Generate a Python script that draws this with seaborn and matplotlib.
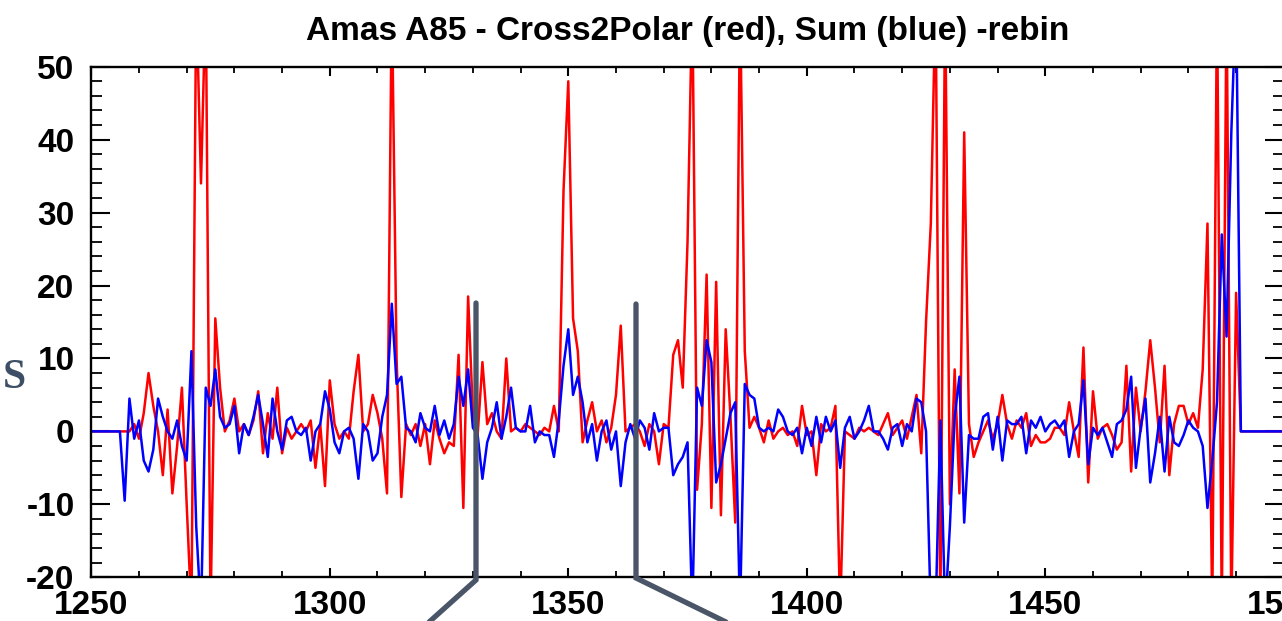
import numpy as np
import pandas as pd
import seaborn as sns
import matplotlib
matplotlib.use("Agg")
import matplotlib.pyplot as plt
from matplotlib.lines import Line2D
from matplotlib.ticker import MultipleLocator

# channel axis (1250 .. 1500, one sample per unit)
channel = list(range(1250, 1501))

# Cross2Polar signal (red), one row per 10 channels
cross2polar = [
    0, 0, 0, 0, 0, 0, 0, 0, 0, 1,
    -1, 2.5, 8, 3.5, 0, -6, 3, -8.5, -2, 6,
    -10, -25, 60, 34, 60, -25, 15.5, 6, 0, 1.5,
    4.5, 0, 1, -0.5, 1.5, 5.5, -3, 2.5, -1, 6,
    -3, 0.5, -1, 0, 1, 0, 1.5, -5, 1, -7.5,
    7, 1, -1, 0, -1, 5.5, 10.5, 0, 1, 5,
    2.5, -1, -8.5, 60, 10, -9, 1, -0.5, 1, -2,
    1, -4.5, 1.5, -1, -3, -1.5, -2, 10.5, -10.5, 18.5,
    2.5, -0.5, 9.5, 1, 2.5, 0, -1, 10, 0, 0.5,
    0, 1, 0.5, 0, -0.5, 0.5, 0, 3.5, 0, 33,
    48, 15.5, 11, -1.5, 1.5, 4, 0, 1.5, -1.5, 0.5,
    5, 14.5, 0, 0.5, 1, 0, -2, 1, 0, -4.5,
    1, 0.5, 10.5, 12.5, 6, 26, 60, -8, 1, 21.5,
    -10.5, 20.5, -11.5, 14, 2, -12.5, 60, 11, 0.5, 2,
    0.5, -1.5, 1.5, -1, 0, 0.5, -0.5, 0, -2, 3.5,
    -0.5, 0, -6, 1, 0, 0.5, 3.5, -25, 0, -0.5,
    -1, 0.5, 0, 0.5, 0, -0.5, 1, 2.5, -0.5, 0.5,
    1.5, -1, 2, 5, -3, 15, 28.5, 60, -25, 60,
    -10, 8.5, -8.5, 41, 1, -3.5, -1.5, 0, 1.5, -1,
    1, 5, 1, -1, 1.5, 0.5, 2.5, -2, -0.5, -1.5,
    -1.5, -1, 0.5, 0.5, -0.5, 4, 0, -3.5, 11.5, -7,
    5.5, -1, 0.5, 1, -0.5, -2.5, -1.5, 9, -5.5, 6,
    0, 5.5, 12.5, 6, -1.5, 9, -6, 1, 3.5, 3.5,
    1, 2.5, 0.5, 8.5, 28.5, -25, 60, -25, 60, -25,
    19, 0, 0, 0, 0, 0, 0, 0, 0, 0,
    0,
]

# Sum signal (blue)
sum_signal = [
    0, 0, 0, 0, 0, 0, 0, -9.5, 4.5, -1,
    1.5, -4, -5.5, -2.5, 4.5, 2, 0, -1, 1.5, -2,
    -4, 11, -13, -25, 6, 3.5, 8.5, 2, 0.5, 1,
    3.5, -3, 1, -0.5, 2, 5, 1, -3.5, 4.5, 0,
    -2.5, 1.5, 2, 0, -0.5, 0.5, -4, 0, 1, 5.5,
    3, -1.5, -3, 0, 0.5, -1, -6.5, 1, 0, -4,
    -3, 2, 5, 17.5, 6.5, 7.5, 0.5, 0, -1.5, 2.5,
    0.5, 0, 3.5, -0.5, 1.5, -1, 1, 7.5, 3.5, 8.5,
    0.5, -0.5, -6.5, -1.5, 0.5, 4, -1, 2, 6, 0.5,
    0, 0, 3.5, -1.5, 0, -0.5, -0.5, -3.5, 1.5, 9,
    14, 5, 7.5, 4, -1.5, 1, -4, 0, 1.5, -2.5,
    0, -7.5, -1.5, 1, -1, 1.5, 0.5, -2.5, 2.5, 0,
    0.5, 0.5, -6, -4.5, -3.5, -1.5, -25, 6, 3.5, 12.5,
    9.5, -7, -4.5, -1, 2.5, 4, -25, 6.5, 5, 4.5,
    0.5, 0, 0.5, 0, 3, 2, 0, -0.5, 0.5, -3,
    0.5, -2, 2, -1.5, 2, 0, 1.5, -5, 0.5, 2,
    -1, 0, 1.5, 3.5, 0, 0, -1, -2.5, 0.5, 1,
    -2, 1, 0, 4.5, 4, 0, -25, -25, 1.5, -25,
    -13, 2, 7.5, -12.5, -0.5, -1, -1, 2, 2.5, -2.5,
    2, -4, 1.5, 1, 1, 2, -3, 1.5, 0.5, 2,
    0, 1, 1.5, 0.5, 1.5, -3.5, 0, 1, 7, -4.5,
    0.5, -0.5, 0.5, -1.5, -3.5, 1, 1.5, 3, 7.5, -5,
    0.5, 4.5, -7, -3, 2, -5.5, 2, -1.5, -2, -0.5,
    1.5, 0.5, 0, -2, -10.5, -4, 4, 27, 13, 41,
    60, 0, 0, 0, 0, 0, 0, 0, 0, 0,
    0,
]

x_ticks = [1250, 1300, 1350, 1400, 1450, 1500]
y_ticks = [-20, -10, 0, 10, 20, 30, 40, 50]

df = pd.DataFrame({
    "channel": channel * 2,
    "value": cross2polar + sum_signal,
    "series": ["Cross2Polar"] * len(channel) + ["Sum"] * len(channel),
})

sns.set_style("ticks")
plt.rcParams["font.family"] = ["Liberation Sans", "DejaVu Sans"]
plt.rcParams["axes.unicode_minus"] = False
for key in ["text.color", "xtick.color", "ytick.color", "axes.edgecolor",
            "xtick.labelcolor", "ytick.labelcolor"]:
    plt.rcParams[key] = "black"

fig = plt.figure(figsize=(12.82, 6.21), dpi=100)
ax = fig.add_axes([0.0712, 0.0704, 0.9302, 0.8222])

sns.lineplot(data=df, x="channel", y="value", hue="series",
             palette={"Cross2Polar": "#ff0000", "Sum": "#0000ff"},
             estimator=None, sort=False, linewidth=1.8, legend=False, ax=ax)

ax.set_xlim(1250, 1500)
ax.set_ylim(-20, 50)
ax.set_xticks(x_ticks)
ax.set_yticks(y_ticks)
ax.xaxis.set_minor_locator(MultipleLocator(10))
ax.yaxis.set_minor_locator(MultipleLocator(2))
ax.set_xlabel("")
ax.set_ylabel("")

for side in ax.spines.values():
    side.set_linewidth(1.7)
    side.set_color("black")

ax.tick_params(axis="x", which="major", direction="in", top=True, length=6.5, width=1.5, pad=9.5)
ax.tick_params(axis="x", which="minor", direction="in", top=True, length=4, width=1.3)
ax.tick_params(axis="y", which="major", direction="in", right=True, length=14, width=1.5, pad=12)
ax.tick_params(axis="y", which="minor", direction="in", right=True, length=8, width=1.3)
for lab in ax.get_xticklabels() + ax.get_yticklabels():
    lab.set_fontsize(24)
    lab.set_fontweight("bold")
    lab.set_color("black")

fig.text(0.5363, 1 - 40 / 621, "Amas A85 - Cross2Polar (red), Sum (blue) -rebin",
         ha="center", va="baseline", fontsize=24, fontweight="bold", color="black")

# slide overlay: serif letter and the two grey pointer lines
fig.text(14 / 1282, 1 - 378 / 621, "S", ha="center", va="center",
         fontsize=30, fontweight="bold", family=["Liberation Serif", "DejaVu Serif"],
         color="#3d4f66")
W, H = 1282, 621
for xs, ys in [([476, 476, 428], [303, 580, 623]), ([636, 636, 728], [304, 578, 623])]:
    fig.add_artist(Line2D([x / W for x in xs], [1 - y / H for y in ys],
                          transform=fig.transFigure, color="#4a5568", lw=3.8,
                          solid_joinstyle="miter", zorder=10))

fig.savefig("out.png", dpi=100)
